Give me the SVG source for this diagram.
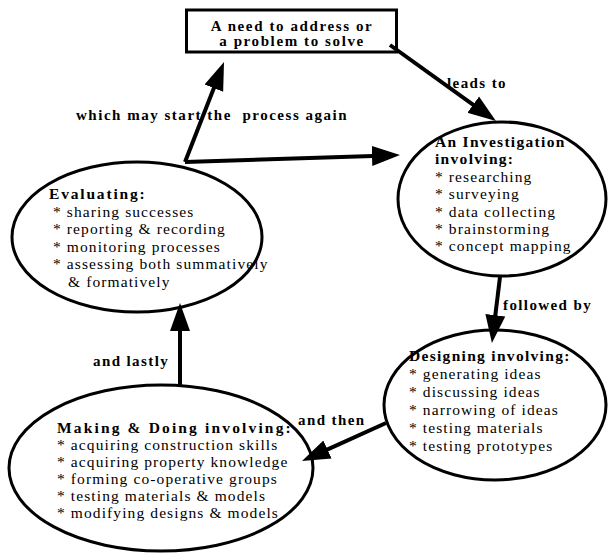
<svg xmlns="http://www.w3.org/2000/svg" width="609" height="554" viewBox="0 0 609 554">
<defs>
<style>
.shape{fill:#fff;stroke:#000;stroke-width:3}
.conn{stroke:#000;stroke-width:4;fill:none}
text{font-family:"Liberation Serif","Times New Roman",serif;fill:#000}
.t{font-size:15.5px;font-weight:bold;letter-spacing:1.3px}
.i{font-size:15.5px;letter-spacing:1.1px}
.lbl{font-size:15px;font-weight:bold;letter-spacing:1.4px;white-space:pre}
.box{font-size:15px;font-weight:bold;letter-spacing:1.6px;text-anchor:middle}
</style>
<marker id="ah" markerUnits="userSpaceOnUse" markerWidth="30" markerHeight="22" viewBox="0 -11 30 22" refX="1" refY="0" orient="auto">
<path d="M0,-10 L28,0 L0,10 Z" fill="#000"/>
</marker>
</defs>
<rect width="609" height="554" fill="#fff"/>
<g id="need">
<rect class="shape" x="186.5" y="10" width="210" height="42"/>
<text class="box" x="292" y="31">A need to address or</text>
<text class="box" x="292" y="46">a problem to solve</text>
</g>
<g id="investigation">
<ellipse class="shape" cx="502" cy="199" rx="104" ry="77"/>
<text class="t" x="435" y="147">An Investigation</text>
<text class="t" x="435" y="164">involving:</text>
<text class="i" x="435" y="182">* researching</text>
<text class="i" x="435" y="199">* surveying</text>
<text class="i" x="435" y="217">* data collecting</text>
<text class="i" x="435" y="234">* brainstorming</text>
<text class="i" x="435" y="251">* concept mapping</text>
</g>
<g id="evaluating">
<ellipse class="shape" cx="137" cy="237" rx="125" ry="75"/>
<text class="t" x="49" y="199" textLength="97">Evaluating:</text>
<text class="i" x="53" y="216.5">* sharing successes</text>
<text class="i" x="53" y="234">* reporting &amp; recording</text>
<text class="i" x="53" y="251.5">* monitoring processes</text>
<text class="i" x="53" y="269">* assessing both summatively</text>
<text class="i" x="68" y="286.5">&amp; formatively</text>
</g>
<g id="designing">
<ellipse class="shape" cx="495" cy="405" rx="111" ry="75"/>
<text class="t" x="409" y="361">Designing involving:</text>
<text class="i" x="409" y="379">* generating ideas</text>
<text class="i" x="409" y="397">* discussing ideas</text>
<text class="i" x="409" y="415">* narrowing of ideas</text>
<text class="i" x="409" y="433">* testing materials</text>
<text class="i" x="409" y="451">* testing prototypes</text>
</g>
<g id="making">
<ellipse class="shape" cx="161" cy="468" rx="152" ry="83"/>
<text class="t" x="57" y="433" textLength="235">Making &amp; Doing involving:</text>
<text class="i" x="57" y="450">* acquiring construction skills</text>
<text class="i" x="57" y="467">* acquiring property knowledge</text>
<text class="i" x="57" y="484">* forming co-operative groups</text>
<text class="i" x="57" y="501">* testing materials &amp; models</text>
<text class="i" x="57" y="518">* modifying designs &amp; models</text>
</g>
<g id="labels">
<text class="lbl" x="76" y="120" textLength="272">which may start the  process again</text>
<text class="lbl" x="447" y="88">leads to</text>
<text class="lbl" x="503" y="310">followed by</text>
<text class="lbl" x="93" y="366">and lastly</text>
<text class="lbl" x="298" y="425">and then</text>
</g>
<g id="connectors">
<line class="conn" x1="185" y1="162" x2="214.2" y2="87.2" marker-end="url(#ah)"/>
<line class="conn" x1="185" y1="162" x2="373" y2="155.9" marker-end="url(#ah)"/>
<line class="conn" x1="390" y1="45" x2="474" y2="105.3" marker-end="url(#ah)"/>
<line class="conn" x1="500" y1="277" x2="495.2" y2="316.2" marker-end="url(#ah)"/>
<line class="conn" x1="386" y1="423" x2="326.6" y2="449.9" marker-end="url(#ah)"/>
<line class="conn" x1="180" y1="385" x2="180" y2="330" marker-end="url(#ah)"/>
</g>
</svg>
